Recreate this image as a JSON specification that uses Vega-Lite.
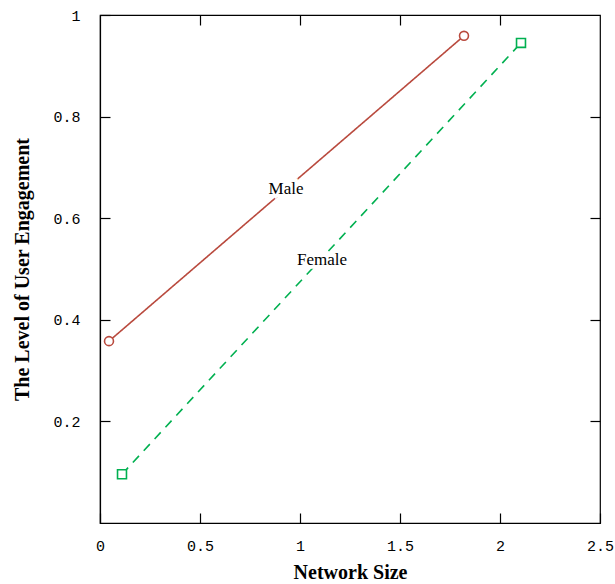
{
  "$schema": "https://vega.github.io/schema/vega-lite/v6.json",
  "autosize": "none",
  "width": 500,
  "height": 508,
  "padding": {"left": 100, "top": 15, "right": 15, "bottom": 61},
  "background": "white",
  "config": {
    "view": {"stroke": "black", "strokeWidth": 1.2},
    "axis": {
      "domainColor": "black", "tickColor": "black", "labelColor": "black", "titleColor": "black",
      "grid": false, "labelFont": "Liberation Mono", "labelFontSize": 15, "labelFlush": false,
      "titleFont": "Liberation Serif", "titleFontSize": 20, "titleFontWeight": "bold",
      "tickSize": -10, "tickWidth": 1.2, "domainWidth": 1.2
    }
  },
  "datasets": {
    "pts": [
      {"series": "Male", "x": 0.045, "y": 0.358},
      {"series": "Male", "x": 1.82, "y": 0.959},
      {"series": "Female", "x": 0.11, "y": 0.096},
      {"series": "Female", "x": 2.105, "y": 0.945}
    ],
    "labels": [
      {"label": "Male", "x": 0.93, "y": 0.657},
      {"label": "Female", "x": 1.11, "y": 0.518}
    ]
  },
  "resolve": {"scale": {"x": "independent", "y": "independent"}},
  "layer": [
    {
      "data": {"name": "pts"},
      "mark": {"type": "line", "strokeWidth": 1.6},
      "encoding": {
        "x": {"field": "x", "type": "quantitative", "scale": {"domain": [0, 2.5], "nice": false},
              "axis": {"orient": "bottom", "values": [0, 0.5, 1, 1.5, 2, 2.5], "title": "Network Size", "labelPadding": 25, "titlePadding": 9, "format": "~g"}},
        "y": {"field": "y", "type": "quantitative", "scale": {"domain": [0, 1], "nice": false},
              "axis": {"orient": "left", "values": [0.2, 0.4, 0.6, 0.8, 1], "title": "The Level of User Engagement", "labelPadding": 30, "titlePadding": 20, "format": "~g"}},
        "color": {"field": "series", "type": "nominal", "scale": {"domain": ["Male", "Female"], "range": ["#b94a3e", "#00b050"]}, "legend": null},
        "strokeDash": {"field": "series", "type": "nominal", "scale": {"domain": ["Male", "Female"], "range": [[1, 0], [9, 7]]}, "legend": null}
      }
    },
    {
      "data": {"name": "pts"},
      "mark": {"type": "point", "filled": true, "fill": "white", "strokeWidth": 1.6, "opacity": 1},
      "encoding": {
        "x": {"field": "x", "type": "quantitative", "scale": {"domain": [0, 2.5], "nice": false}, "axis": null},
        "y": {"field": "y", "type": "quantitative", "scale": {"domain": [0, 1], "nice": false}, "axis": null},
        "stroke": {"field": "series", "type": "nominal", "scale": {"domain": ["Male", "Female"], "range": ["#b94a3e", "#00b050"]}, "legend": null},
        "shape": {"field": "series", "type": "nominal", "scale": {"domain": ["Male", "Female"], "range": ["circle", "square"]}, "legend": null},
        "size": {"value": 80}
      }
    },
    {
      "data": {"name": "labels"},
      "mark": {"type": "text", "font": "Liberation Serif", "fontSize": 17, "stroke": "white", "strokeWidth": 7, "fill": "white"},
      "encoding": {
        "x": {"field": "x", "type": "quantitative", "scale": {"domain": [0, 2.5], "nice": false}, "axis": null},
        "y": {"field": "y", "type": "quantitative", "scale": {"domain": [0, 1], "nice": false}, "axis": null},
        "text": {"field": "label"}
      }
    },
    {
      "data": {"name": "labels"},
      "mark": {"type": "text", "font": "Liberation Serif", "fontSize": 17, "fill": "black"},
      "encoding": {
        "x": {"field": "x", "type": "quantitative", "scale": {"domain": [0, 2.5], "nice": false}, "axis": null},
        "y": {"field": "y", "type": "quantitative", "scale": {"domain": [0, 1], "nice": false}, "axis": null},
        "text": {"field": "label"}
      }
    },
    {
      "data": {"name": "pts"},
      "mark": {"type": "point", "opacity": 0},
      "encoding": {
        "x": {"field": "x", "type": "quantitative", "scale": {"domain": [0, 2.5], "nice": false},
              "axis": {"orient": "top", "values": [0.5, 1, 1.5, 2], "labels": false, "title": null, "domain": false}},
        "y": {"field": "y", "type": "quantitative", "scale": {"domain": [0, 1], "nice": false},
              "axis": {"orient": "right", "values": [0.2, 0.4, 0.6, 0.8], "labels": false, "title": null, "domain": false}}
      }
    }
  ]
}
